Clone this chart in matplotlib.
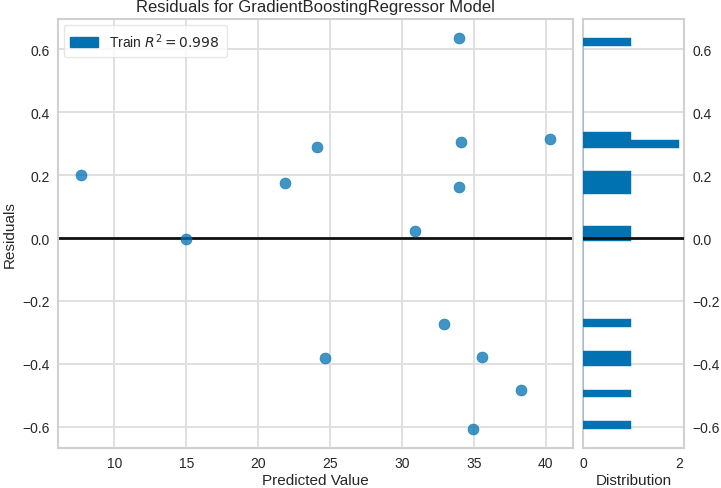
import matplotlib
matplotlib.use("Agg")
import matplotlib.pyplot as plt
from matplotlib.patches import Patch
import seaborn as sns

# Predicted values and residuals
predicted = [7.7, 15.0, 21.9, 24.1, 24.65, 30.9, 32.9, 34.0, 34.1, 33.95,
             35.55, 34.95, 38.3, 40.28]
residuals = [0.201, -0.002, 0.176, 0.290, -0.383, 0.023, -0.272, 0.635,
             0.306, 0.163, -0.377, -0.606, -0.485, 0.316]
r2_train = 0.998

POINT_COLOR = "#0072B2"
LINE_COLOR = "#111111"

sns.set_style("whitegrid", {
    "grid.color": "#dddddd",
    "axes.edgecolor": "#d0d0d0",
})
plt.rcParams["font.family"] = ["Liberation Sans", "DejaVu Sans"]
plt.rcParams["text.color"] = "#262626"
plt.rcParams["axes.labelcolor"] = "#262626"
plt.rcParams["xtick.color"] = "#262626"
plt.rcParams["ytick.color"] = "#262626"

fig = plt.figure(figsize=(7.21, 4.89), dpi=100)
ax = fig.add_axes([0.0804, 0.0818, 0.7143, 0.8773])
hax = fig.add_axes([0.8086, 0.0818, 0.1398, 0.8773], sharey=ax)

ax.scatter(predicted, residuals, s=62, c=POINT_COLOR, alpha=0.75,
           edgecolors=POINT_COLOR, linewidths=0.5, zorder=3)
ax.axhline(0, color=LINE_COLOR, lw=2, zorder=2)

ax.set_title("Residuals for GradientBoostingRegressor Model", fontsize=12, pad=6)
ax.set_xlabel("Predicted Value", fontsize=11, labelpad=2)
ax.set_ylabel("Residuals", fontsize=11, labelpad=4)
ax.tick_params(labelsize=10, length=0, pad=6)
ax.set_xticks([10, 15, 20, 25, 30, 35, 40])
ax.set_yticks([-0.6, -0.4, -0.2, 0.0, 0.2, 0.4, 0.6])
for s in ax.spines.values():
    s.set_linewidth(1.5)
ax.grid(True, lw=1.3)

handle = Patch(facecolor=POINT_COLOR, edgecolor=POINT_COLOR)
leg = ax.legend([handle], [r"Train $R^2 = %.3f$" % r2_train], loc="upper left",
                frameon=True, fontsize=10, handlelength=2.0, borderpad=0.5,
                borderaxespad=0.4)
leg.get_frame().set_edgecolor("#e0e0e0")
leg.get_frame().set_facecolor("white")

# Distribution of residuals
hax.hist(residuals, bins=50, orientation="horizontal", color=POINT_COLOR,
         edgecolor=POINT_COLOR, linewidth=0.3, zorder=3)
hax.axhline(0, color=LINE_COLOR, lw=2, zorder=4)
hax.set_xlabel("Distribution", fontsize=11, labelpad=2)
hax.set_xticks([0, 2])
hax.yaxis.tick_right()
hax.tick_params(labelsize=10, length=0, pad=6)
hax.tick_params(axis="y", labelleft=False, labelright=True)
for s in hax.spines.values():
    s.set_linewidth(1.5)
hax.grid(True, axis="y", lw=1.3)
hax.grid(False, axis="x")

ax.set_ylim(-0.668, 0.697)
ax.set_xlim(6.08, 41.9)

fig.savefig("out.png", dpi=100)
